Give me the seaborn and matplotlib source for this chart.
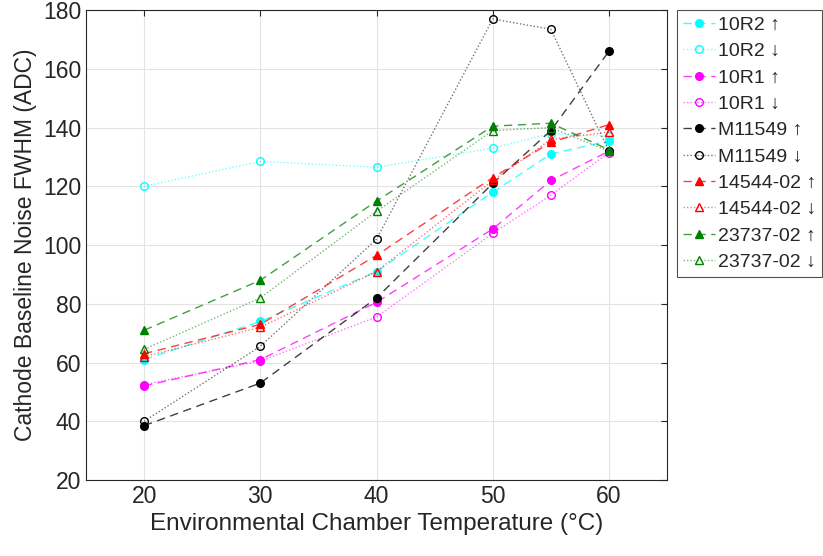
import seaborn as sns
import matplotlib.pyplot as plt
import matplotlib.colors as mcolors
import pandas as pd

temps = [20, 30, 40, 50, 55, 60]

r2_up = [61, 74, 91, 118, 131, 135.5]
r2_down = [120, 128.5, 126.5, 133, 138, 137]
r1_up = [52, 61, 80.5, 105.5, 122, 132]
r1_down = [52.5, 60.5, 75.5, 104, 117, 131.5]
m_up = [38.5, 53, 82, 121, 139, 166]
m_down = [40, 65.5, 102, 177, 173.5, 132]
t14_up = [63, 73, 96.5, 123, 135, 141]
t14_down = [62, 72, 91, 122, 136, 138.5]
t23_up = [71, 88, 115, 140.5, 141.5, 132.5]
t23_down = [64.5, 82, 111.5, 139, 140, 132]

names = ['10R2 ↑', '10R2 ↓', '10R1 ↑', '10R1 ↓', 'M11549 ↑', 'M11549 ↓',
         '14544-02 ↑', '14544-02 ↓', '23737-02 ↑', '23737-02 ↓']
series = [r2_up, r2_down, r1_up, r1_down, m_up, m_down,
          t14_up, t14_down, t23_up, t23_down]

colors = ['#00ffff', '#00ffff', '#ff00ff', '#ff00ff', 'black', 'black',
          'red', 'red', 'green', 'green']
markers = ['o', 'o', 'o', 'o', 'o', 'o', '^', '^', '^', '^']

sns.set_style('white')
plt.rcParams['font.family'] = ['Liberation Sans', 'DejaVu Sans']

fig = plt.figure(figsize=(8.23, 5.56), dpi=100)
ax = fig.add_axes([0.1045, 0.1367, 0.706, 0.845])

for i, (name, vals) in enumerate(zip(names, series)):
    df = pd.DataFrame({'T': temps, 'FWHM': vals})
    up = i % 2 == 0
    sns.lineplot(data=df, x='T', y='FWHM', ax=ax, label=name,
                 color=colors[i], marker=markers[i], markersize=5.5,
                 linestyle=(0, (6, 4)) if up else (0, (1, 1.5)),
                 linewidth=1.0,
                 markerfacecolor=colors[i] if up else 'none',
                 markeredgecolor=colors[i], markeredgewidth=1.0)
    # lighter line, full-colour markers
    ln = ax.get_lines()[-1]
    ln.set_color(mcolors.to_rgba(colors[i], 0.75 if up else 0.55))

ax.set_xlim(15, 65)
ax.set_ylim(20, 180)
ax.set_xticks([20, 30, 40, 50, 60])
ax.set_yticks(range(20, 181, 20))
ax.grid(True, color='#e3e3e3', linewidth=0.8)
ax.tick_params(labelsize=16.5, direction='in', top=True, right=True,
               length=4, color='#262626', labelcolor='#262626')
for s in ax.spines.values():
    s.set_color('#262626')
    s.set_linewidth(0.8)
ax.set_xlabel('Environmental Chamber Temperature (°C)', fontsize=17.5, color='#262626')
ax.set_ylabel('Cathode Baseline Noise FWHM (ADC)', fontsize=16.5, color='#262626')

leg = ax.legend(loc='upper left', bbox_to_anchor=(1.017, 1.0), fontsize=14,
                frameon=True, fancybox=False, edgecolor='#262626',
                handlelength=1.65, handletextpad=0.15, borderpad=0.3,
                labelspacing=0.45, borderaxespad=0)
leg.get_frame().set_linewidth(0.8)

fig.savefig('out.png', dpi=100)
